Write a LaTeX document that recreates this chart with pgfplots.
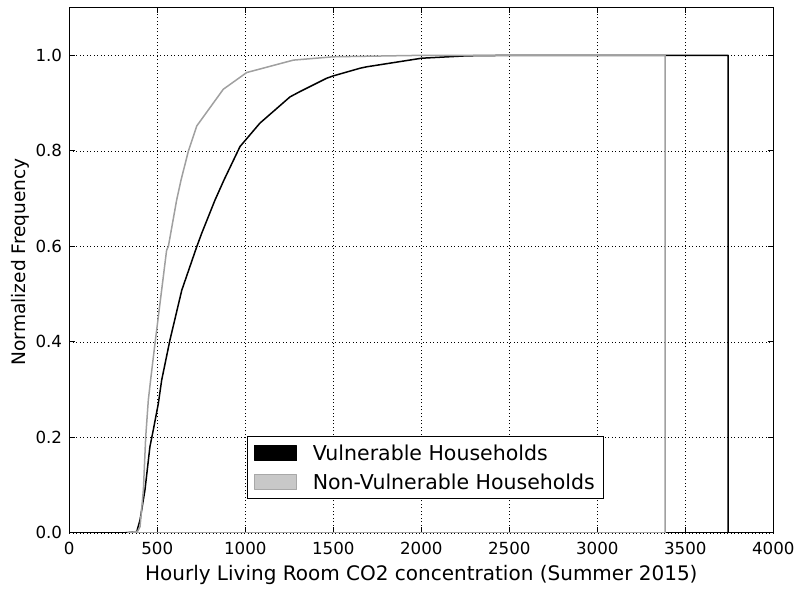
\documentclass[border=0pt]{standalone}
\usepackage{fontspec}
\setmainfont{DejaVu Sans}
\usepackage{pgfplots}
\pgfplotsset{compat=1.18}

\definecolor{nvline}{HTML}{A0A0A0}
\definecolor{nvfill}{HTML}{C8C8C8}
\definecolor{nvedge}{HTML}{A8A8A8}

\newcommand{\tickfont}{\fontsize{16.67}{20}\selectfont}
\newcommand{\labelfont}{\fontsize{20}{24}\selectfont}
\newcommand{\ylabfont}{\fontsize{18.6}{22}\selectfont}
\newcommand{\legfont}{\fontsize{20.5}{24}\selectfont}

\begin{document}
\begin{tikzpicture}
\path[use as bounding box] (-69.3pt,-57.2pt) rectangle (726.7pt,532.8pt);
\begin{axis}[
  scale only axis, width=704pt, height=525.2pt,
  xmin=0, xmax=4000, ymin=0, ymax=1.1,
  xtick={0,500,1000,1500,2000,2500,3000,3500,4000},
  ytick={0,0.2,0.4,0.6,0.8,1.0},
  grid=major,
  grid style={black, line width=0.5pt, dash pattern=on 1pt off 2.5pt},
  axis line style={black, line width=1pt},
  tick align=inside, tick pos=both,
  major tick length=5.5pt,
  tick style={black, line width=0.8pt},
  /pgf/number format/assume math mode=true,
  xticklabel style={font=\tickfont, anchor=base, inner sep=0pt, yshift=-22pt,
    /pgf/number format/set thousands separator={}},
  yticklabel style={font=\tickfont, anchor=east, inner sep=0pt, xshift=-7pt,
    /pgf/number format/fixed, /pgf/number format/fixed zerofill,
    /pgf/number format/precision=1},
  xlabel={Hourly Living Room CO2 concentration (Summer 2015)},
  ylabel={Normalized Frequency},
  xlabel style={font=\labelfont, at={(axis description cs:0.5,0)}, anchor=base, inner sep=0pt, yshift=-47.2pt},
  % the label is rotated, so a shift along its own y axis moves it left
  ylabel style={font=\ylabfont, at={(axis description cs:0,0.516)}, anchor=north, inner sep=0pt, yshift=58pt},
  legend cell align=left,
  legend style={at={(axis description cs:0.506,0.064)}, anchor=south,
    draw=black, line width=1pt, font=\legfont,
    inner xsep=7pt, inner ysep=6pt, row sep=8pt,
    /tikz/every odd column/.append style={column sep=14pt}},
]
% cumulative step outline, vulnerable households
\addplot[black, line width=1.5pt, line join=round,
  legend image code/.code={\filldraw[fill=black, draw=black, line width=0.6pt] (0pt,-7.5pt) rectangle (42pt,7.5pt);}]
  coordinates {
  (316,0) (383,0.002) (402,0.027) (430,0.09) (458,0.18) (477,0.215)
  (506,0.271) (525,0.32) (572,0.404) (639,0.508) (724,0.599) (752,0.627)
  (828,0.697) (879,0.739) (970,0.809) (1083,0.858) (1254,0.913) (1310,0.924)
  (1462,0.952) (1500,0.957) (1652,0.973) (1690,0.976) (2002,0.994)
  (2258,0.999) (2500,1.0) (3744,1.0) (3744,0) (316,0)
  };
\addlegendentry{Vulnerable Households}
% cumulative step outline, non-vulnerable households
\addplot[nvline, line width=1.5pt, line join=round,
  legend image code/.code={\filldraw[fill=nvfill, draw=nvedge, line width=0.6pt] (0pt,-7.5pt) rectangle (42pt,7.5pt);}]
  coordinates {
  (330,0) (388,0.003) (402,0.013) (421,0.09) (434,0.2) (449,0.278)
  (462,0.32) (475,0.36) (487,0.397) (553,0.592) (563,0.6) (610,0.697)
  (635,0.739) (677,0.80) (724,0.852) (875,0.929) (1008,0.964) (1273,0.990)
  (1500,0.997) (2000,1.0) (3385,1.0) (3385,0) (330,0)
  };
\addlegendentry{Non-Vulnerable Households}
\end{axis}
\end{tikzpicture}
\end{document}
